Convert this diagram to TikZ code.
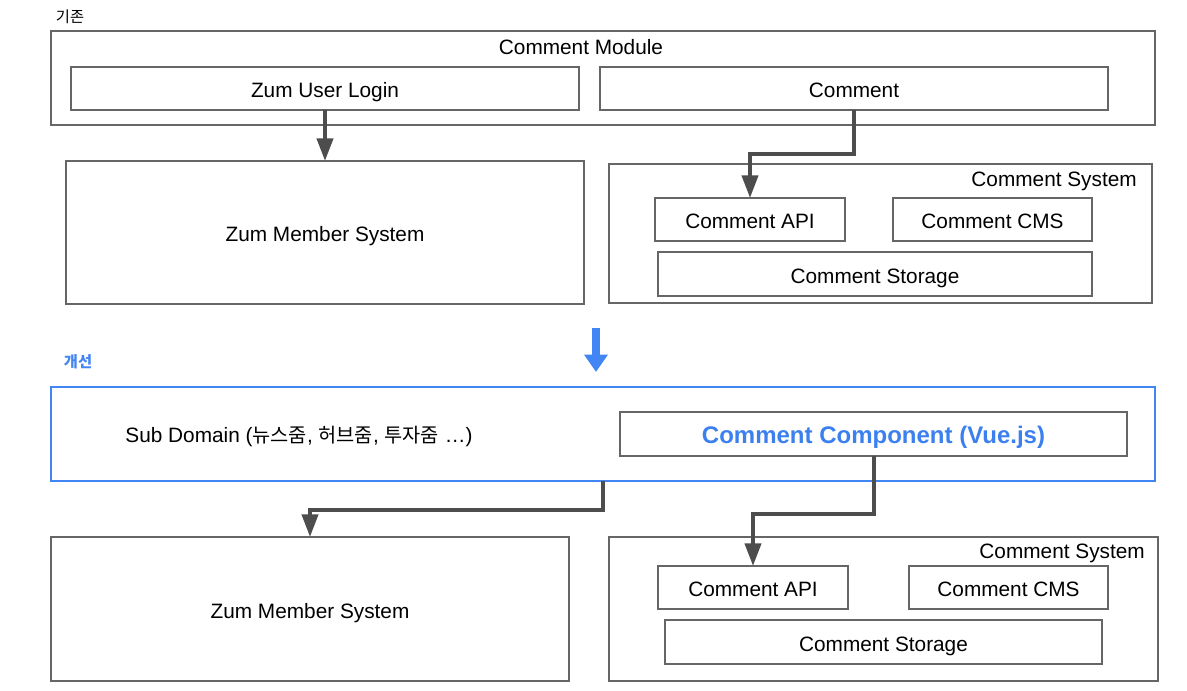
\documentclass[tikz,border=0pt]{standalone}
\usepackage{fontspec}
\setmainfont{Liberation Sans}
\newfontfamily\krfont{Noto Sans CJK KR}
\usetikzlibrary{arrows.meta}
\definecolor{boxgray}{HTML}{666666}
\definecolor{arrgray}{HTML}{4D4D4D}
\definecolor{gblue}{HTML}{4285F4}
\definecolor{tblue}{HTML}{3B80EE}
\tikzset{
  bx/.style={draw=boxgray, line width=0.95pt, inner sep=0pt, outer sep=0pt, text height=13.5pt, text depth=0pt, font=\fontsize{15.6}{18}\selectfont},
  conn/.style={draw=arrgray, line width=3pt, -{Triangle[length=17pt,width=12pt]}},
  lbl/.style={inner sep=0pt, font=\fontsize{15.6}{18}\selectfont},
  krlbl/.style={inner sep=0pt, font=\krfont\fontsize{11.5}{13}\selectfont}
}
\newcommand{\pxbox}[7][]{%
  \node[bx,#1, minimum width={(#5-#3)*0.75pt}, minimum height={(#6-#4)*0.75pt}] (#2) at ({(#3+#5)/2},{(#4+#6)/2}) {#7};}
\begin{document}
\begin{tikzpicture}[x=0.75pt,y=-0.75pt]
\useasboundingbox (0,0) rectangle (1187,690);
% ---------- top part ----------
\node[krlbl] (kijon) at (70,17) {기존};
\pxbox{cmod}{51}{31}{1155}{125}{}
\node[lbl] (cmodlbl) at (581,47) {Comment Module};
\pxbox{zul}{71}{67}{579}{110}{Zum User Login}
\pxbox{cmt}{600}{67}{1108}{110}{Comment}
\pxbox{zms1}{66}{161}{584}{304}{Zum Member System}
\pxbox{cs1}{609}{164}{1152}{303}{}
\node[lbl, anchor=east] (cs1lbl) at (1137,181) {Comment System};
\pxbox{api1}{655}{198}{845}{241}{Comment API}
\pxbox{cms1}{893}{198}{1092}{241}{Comment CMS}
\pxbox{sto1}{658}{252}{1092}{296}{Comment Storage}
\draw[conn] (zul.south) -- (zms1.north);
\draw[conn] (cmt.south) -- ++(0,44) -| (api1.north);
% ---------- blue transition arrow ----------
\coordinate (bA) at (596,328);
\coordinate (bB) at (596,372);
\draw[gblue, line width=6pt, -{Triangle[length=13pt,width=17pt]}] (bA) -- (bB);
% ---------- bottom part ----------
\node[krlbl, text=gblue, font=\krfont\bfseries\fontsize{11.5}{13}\selectfont] (gaeseon) at (78,362) {개선};
\pxbox[draw=gblue]{sub}{51}{387}{1155}{481}{}
\node[lbl] (sublbl) at (299,436) {Sub Domain ({\krfont\fontsize{14.8}{18}\selectfont 뉴스줌}, {\krfont\fontsize{14.8}{18}\selectfont 허브줌}, {\krfont\fontsize{14.8}{18}\selectfont 투자줌} …)};
\pxbox[font=\bfseries\fontsize{18}{22}\selectfont, text=tblue, text height=14.4pt]{cc}{620}{412}{1127}{456}{Comment Component (Vue.js)}
\pxbox{zms2}{51}{537}{569}{681}{Zum Member System}
\pxbox{cs2}{609}{537}{1158}{681}{}
\node[lbl, anchor=east] (cs2lbl) at (1145,553) {Comment System};
\pxbox{api2}{658}{566}{848}{609}{Comment API}
\pxbox{cms2}{909}{566}{1108}{609}{Comment CMS}
\pxbox{sto2}{665}{620}{1102}{664}{Comment Storage}
\draw[conn] ([xshift=552*0.75pt]sub.south west) -- ++(0,29) -| (zms2.north);
\draw[conn] (cc.south) -- ++(0,58) -| (api2.north);
\end{tikzpicture}
\end{document}
